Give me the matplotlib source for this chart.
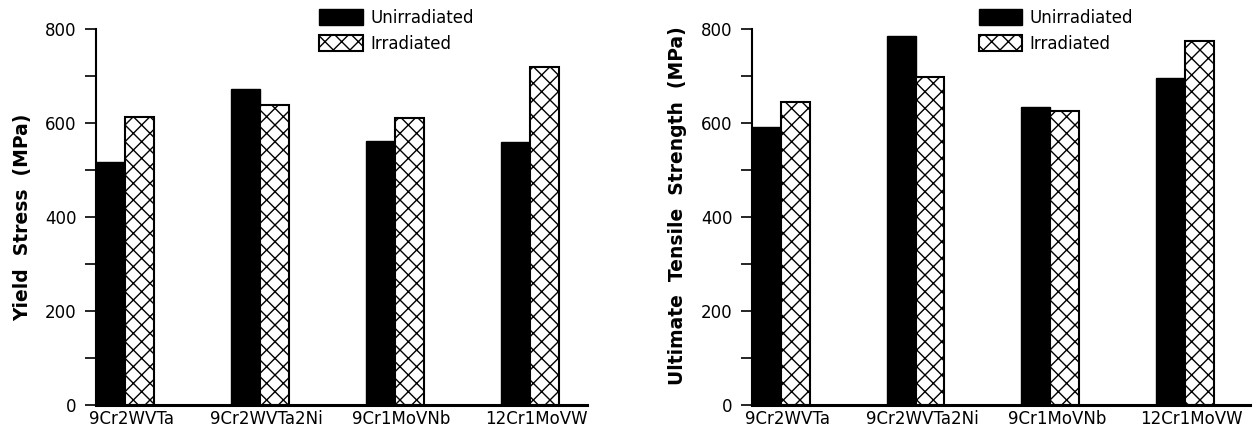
import matplotlib
matplotlib.use("Agg")
import matplotlib.pyplot as plt
import numpy as np

alloys = ["9Cr2WVTa", "9Cr2WVTa2Ni", "9Cr1MoVNb", "12Cr1MoVW"]
series = ["Unirradiated", "Irradiated"]

yield_unirr = [517, 673, 562, 559]
yield_irr = [613, 638, 612, 720]

uts_unirr = [593, 785, 635, 696]
uts_irr = [645, 699, 627, 775]

plt.rcParams["font.family"] = ["DejaVu Sans"]
plt.rcParams["hatch.linewidth"] = 1.0

fig = plt.figure(figsize=(12.54, 4.30), dpi=100)
ax1 = fig.add_axes([0.0766, 0.0581, 0.3915, 0.8738])
ax2 = fig.add_axes([0.5997, 0.0581, 0.3971, 0.8738])

w = 0.215


def draw(ax, unirr, irr, ylabel, xmax, lab_y):
    x = np.arange(len(alloys))
    ax.bar(x, unirr, width=w, align="edge", color="black",
           edgecolor="black", linewidth=1.0, label=series[0])
    ax.bar(x + w, irr, width=w, align="edge", color="white",
           edgecolor="black", hatch="xx", linewidth=1.5, label=series[1])

    ax.set_xlim(0, xmax)
    ax.set_ylim(0, 800)
    ax.set_yticks([0, 200, 400, 600, 800])
    ax.set_yticks([100, 300, 500, 700], minor=True)
    ax.tick_params(axis="y", which="both", direction="out", length=8,
                   width=1.2, labelsize=12, pad=6)
    ax.set_xticks(x + w + 0.05)
    ax.set_xticklabels(alloys, fontsize=12)
    ax.tick_params(axis="x", length=0, pad=3.5)

    for s in ["top", "right"]:
        ax.spines[s].set_visible(False)
    ax.spines["left"].set_linewidth(1.5)
    ax.spines["bottom"].set_linewidth(2.2)

    ax.set_ylabel(ylabel, fontsize=13.5, fontweight="bold")
    ax.yaxis.set_label_coords(-0.13, lab_y)

    ax.legend(loc="upper left", bbox_to_anchor=(0.455, 1.055), frameon=False,
              fontsize=12, handlelength=2.6, handleheight=1.1,
              handletextpad=0.45, labelspacing=0.5, borderpad=0,
              borderaxespad=0)


draw(ax1, yield_unirr, yield_irr, "Yield  Stress  (MPa)", 3.64, 0.5)
draw(ax2, uts_unirr, uts_irr, "Ultimate  Tensile  Strength  (MPa)", 3.70, 0.53)

fig.savefig("out.png", dpi=100)
